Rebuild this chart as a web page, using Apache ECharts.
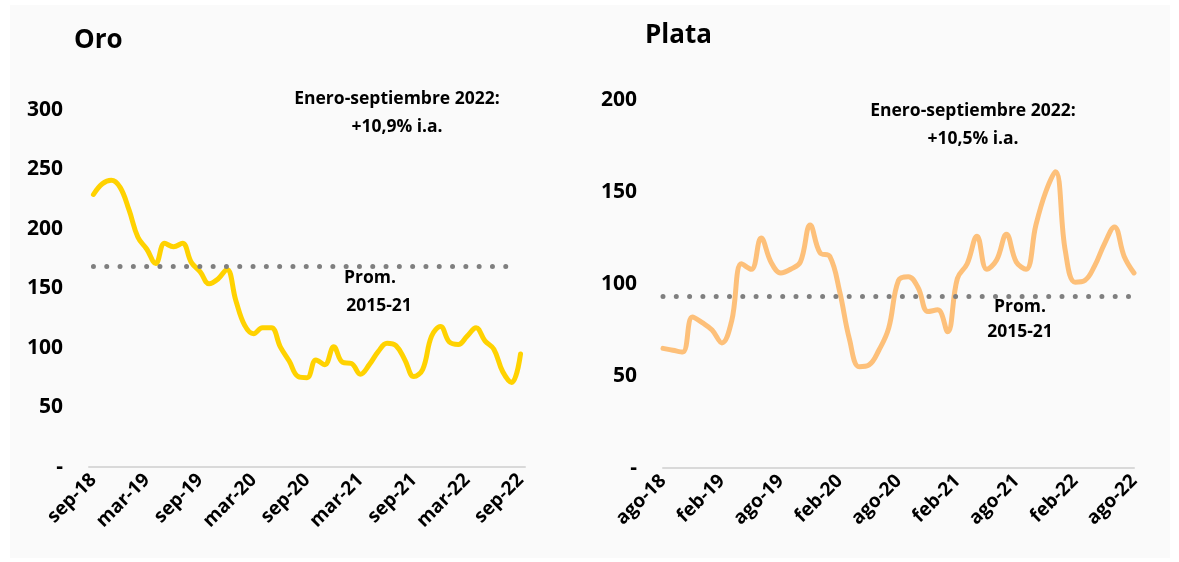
<!DOCTYPE html>
<html>
<head>
<meta charset="utf-8">
<script src="https://cdn.jsdelivr.net/npm/echarts@6/dist/echarts.min.js"></script>
<style>
  html, body { margin: 0; padding: 0; background: #ffffff; }
  #chart { width: 1179px; height: 562px; }
</style>
</head>
<body>
<div id="chart"></div>
<script>
// monthly index, gold (Oro) and silver (Plata)
var oroMonths = ['sep-18','oct-18','nov-18','dic-18','ene-19','feb-19','mar-19','abr-19','may-19','jun-19','jul-19','ago-19',
  'sep-19','oct-19','nov-19','dic-19','ene-20','feb-20','mar-20','abr-20','may-20','jun-20','jul-20','ago-20',
  'sep-20','oct-20','nov-20','dic-20','ene-21','feb-21','mar-21','abr-21','may-21','jun-21','jul-21','ago-21',
  'sep-21','oct-21','nov-21','dic-21','ene-22','feb-22','mar-22','abr-22','may-22','jun-22','jul-22','ago-22','sep-22'];
var oroValues = [229, 238, 241, 235, 216, 193, 183, 171, 188, 185, 188, 172,
  164, 154, 158, 166, 140, 119, 112, 117, 117, 101, 89, 76,
  75, 90, 86, 101, 88, 87, 78, 86, 97, 104, 102, 90,
  76, 82, 110, 118, 105, 103, 110, 117, 106, 99, 80, 71, 95];
var oroProm = 169;

var plataMonths = ['ago-18','sep-18','oct-18','nov-18','dic-18','ene-19','feb-19','mar-19','abr-19','may-19','jun-19','jul-19',
  'ago-19','sep-19','oct-19','nov-19','dic-19','ene-20','feb-20','mar-20','abr-20','may-20','jun-20','jul-20',
  'ago-20','sep-20','oct-20','nov-20','dic-20','ene-21','feb-21','mar-21','abr-21','may-21','jun-21','jul-21',
  'ago-21','sep-21','oct-21','nov-21','dic-21','ene-22','feb-22','mar-22','abr-22','may-22','jun-22','jul-22','ago-22'];
var plataValues = [65, 64, 63, 82, 79, 75, 68, 80, 111, 108, 125, 112,
  106, 108, 112, 132, 117, 115, 96, 70, 55, 56, 64, 76,
  102, 104, 98, 85, 86, 74, 103, 111, 126, 108, 113, 127,
  112, 108, 132, 150, 161, 118, 101, 102, 110, 122, 131, 115, 106];
var plataProm = 93.5;

var FONT = 'Open Sans';

function yAxisFor(idx, max){
    return {
        gridIndex: idx, type: 'value', min: 0, max: max, interval: 50,
        axisLine: { show: false }, axisTick: { show: false },
        splitLine: { show: false },
        axisLabel: {
            margin: 26, color: '#000', fontFamily: FONT, fontWeight: 'bold', fontSize: 21,
            formatter: function(v){ return v === 0 ? '-' : v; }
        }
    };
}

function xAxisFor(idx, cats, gap){
    return {
        gridIndex: idx, type: 'category', data: cats, boundaryGap: gap,
        axisLine: { lineStyle: { color: '#d9d9d9', width: 2 } },
        axisTick: { show: false },
        axisLabel: {
            interval: 5, rotate: 45, margin: 10, color: '#000',
            fontFamily: FONT, fontWeight: 'bold', fontSize: 19
        }
    };
}

function promLine(from, to, val){
    return {
        silent: true, symbol: 'none', label: { show: false },
        lineStyle: { color: '#7f7f7f', width: 5, type: [0, 13.3], cap: 'round' },
        data: [[{ coord: [from, val] }, { coord: [to, val] }]]
    };
}

function note(x, y, s){
    return { type: 'text', x: x, y: y, style: { text: s, fill: '#000', font: 'bold 17.5px "' + FONT + '"', align: 'center' } };
}

var chart = echarts.init(document.getElementById('chart'));
var option = {
    backgroundColor: '#ffffff',
    animation: false,
    grid: [
        { left: 89, top: 110, width: 436, height: 357 },
        { left: 663, top: 100, width: 471, height: 368 }
    ],
    xAxis: [ xAxisFor(0, oroMonths, true), xAxisFor(1, plataMonths, false) ],
    yAxis: [ yAxisFor(0, 300), yAxisFor(1, 200) ],
    graphic: [
        { type: 'rect', z: -10, shape: { x: 10, y: 5, width: 1160, height: 553 }, style: { fill: '#fafafa' } },
        { type: 'text', left: 74, top: 28, style: { text: 'Oro', fill: '#000', font: 'bold 26px "' + FONT + '"' } },
        { type: 'text', left: 645, top: 23, style: { text: 'Plata', fill: '#000', font: 'bold 26px "' + FONT + '"' } },
        note(397, 90, 'Enero-septiembre 2022:'),
        note(397, 118, '+10,9% i.a.'),
        note(370, 269, 'Prom.'),
        note(379, 297, '2015-21'),
        note(973, 102, 'Enero-septiembre 2022:'),
        note(973, 130, '+10,5% i.a.'),
        note(1020, 298, 'Prom.'),
        note(1020, 323, '2015-21')
    ],
    series: [
        {
            name: 'Oro', type: 'line', xAxisIndex: 0, yAxisIndex: 0,
            data: oroValues, smooth: 0.4, showSymbol: false,
            lineStyle: { color: '#ffd200', width: 5, cap: 'round', join: 'round' },
            markLine: promLine(0, 47, oroProm)
        },
        {
            name: 'Plata', type: 'line', xAxisIndex: 1, yAxisIndex: 1,
            data: plataValues, smooth: 0.4, showSymbol: false,
            lineStyle: { color: '#fdc07a', width: 5, cap: 'round', join: 'round' },
            markLine: promLine(0, 48, plataProm)
        }
    ]
};
chart.setOption(option);
</script>
</body>
</html>
